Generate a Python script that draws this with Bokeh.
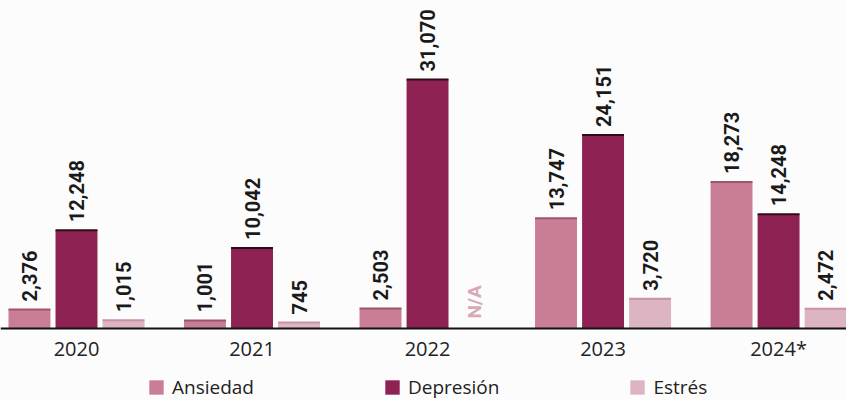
import math
from bokeh.plotting import figure
from bokeh.models import ColumnDataSource, FixedTicker, Legend, LegendItem, Range1d
from bokeh.core.properties import value
from bokeh.embed import file_html
from bokeh.resources import INLINE

# ---- data ----
years = ["2020", "2021", "2022", "2023", "2024*"]
ansiedad = [2376, 1001, 2503, 13747, 18273]
depresion = [12248, 10042, 31070, 24151, 14248]
estres = [1015, 745, None, 3720, 2472]
series_names = ["Ansiedad", "Depresión", "Estrés"]

# ---- styles ----
colors = ["#ca7e96", "#8e2252", "#ddb5c2"]
top_colors = ["#9c566c", "#2b0c19", "#c593a4"]
offsets = [-0.268, 0.0, 0.268]
bar_w = 0.239
FONT = "Open Sans"
PX = 31070 / 249.0  # data units per pixel

p = figure(width=846, height=400, output_backend="svg", toolbar_location=None,
           x_range=Range1d(-0.433, 4.387), y_range=Range1d(-72 * PX, 328 * PX),
           min_border=0, min_border_left=0, min_border_right=0,
           min_border_top=0, min_border_bottom=0)
p.background_fill_color = "#fdfcfc"
p.border_fill_color = "#fdfcfc"
p.outline_line_color = None
p.grid.visible = False
p.yaxis.visible = False

xa = p.xaxis[0]
xa.fixed_location = 0
xa.ticker = FixedTicker(ticks=list(range(len(years))))
xa.major_label_overrides = {i: y for i, y in enumerate(years)}
xa.major_tick_line_color = None
xa.minor_tick_line_color = None
xa.axis_line_color = "#111111"
xa.axis_line_width = 2.2
xa.major_label_text_font = FONT
xa.major_label_text_font_size = "20px"
xa.major_label_text_color = "#222222"
xa.major_label_standoff = 0

renderers = []
for k, (name, vals) in enumerate(zip(series_names, [ansiedad, depresion, estres])):
    xs, tops, labels = [], [], []
    for i, v in enumerate(vals):
        if v is None:
            continue
        xs.append(i + offsets[k])
        tops.append(v)
        labels.append(f"{v:,}")
    src = ColumnDataSource(dict(x=xs, top=tops, label=labels,
                                x0=[x - bar_w / 2 for x in xs],
                                x1=[x + bar_w / 2 for x in xs]))
    r = p.vbar(x="x", top="top", width=bar_w, bottom=0, source=src,
               fill_color=colors[k], line_color=None)
    renderers.append(r)
    p.segment(x0="x0", x1="x1", y0="top", y1="top", source=src,
              line_color=top_colors[k], line_width=2)
    p.text(x="x", y="top", text="label", source=src, angle=math.pi / 2,
           text_align="left", text_baseline="middle", y_offset=-8,
           text_font=value("Roboto"), text_font_style="bold",
           text_font_size="20px", text_color="#1a1a1a")

# N/A marker for missing value
na_x, na_text = [], []
for i, v in enumerate(estres):
    if v is None:
        na_x.append(i + offsets[2])
        na_text.append("N/A")
na_src = ColumnDataSource(dict(x=na_x, y=[0] * len(na_x), t=na_text))
p.text(x="x", y="y", text="t", source=na_src, angle=math.pi / 2,
       text_align="left", text_baseline="middle", y_offset=-10,
       text_font=value("Roboto"), text_font_style="bold",
       text_font_size="19px", text_color="#d7a9b6")

legend = Legend(items=[LegendItem(label=n, renderers=[r]) for n, r in zip(series_names, renderers)],
                orientation="horizontal", location=(147, 0),
                glyph_width=18, glyph_height=18, label_standoff=7,
                spacing=129, padding=0, margin=0,
                label_text_font=FONT, label_text_font_size="19px",
                label_text_color="#222222",
                border_line_color=None, background_fill_alpha=0)
p.add_layout(legend)

open("out.html", "w").write(file_html(p, INLINE))
